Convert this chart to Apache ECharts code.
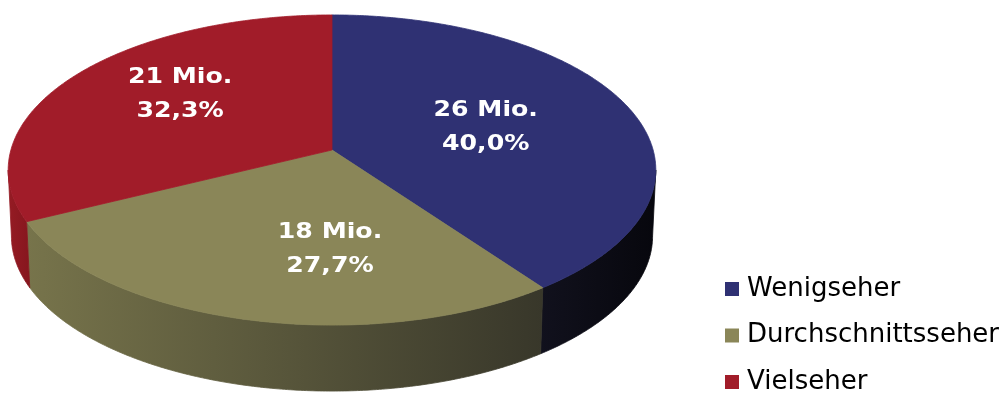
<!DOCTYPE html>
<html>
<head>
<meta charset="utf-8">
<script src="https://cdn.jsdelivr.net/npm/echarts@6/dist/echarts.min.js"></script>
<style>
  html, body { margin: 0; padding: 0; background: #ffffff; }
  #chart { width: 1006px; height: 394px; }
</style>
</head>
<body>
<div id="chart"></div>
<script>
// Zuschauergruppen (Mio.)
const categories = ['Wenigseher', 'Durchschnittsseher', 'Vielseher'];
const viewers = [26, 18, 21];

// colours: top faces, side faces (left -> right gradient)
const topColors = ['#2f3173', '#8a8658', '#a11c29'];
const sideColors = [['#11111d', '#07070d'], ['#77744b', '#38372a'], ['#951b24', '#86161e']];
// small shifts of the value labels away from the slice centre
const labelNudge = [[4, 1], [39, 21], [-20, -17]];

// tilted disc seen in perspective; the wall is the rim pushed down in screen space
const view = { cx: 332, cy: 150, f: 2190, dist: 6.82, tilt: 28.35, wall: 66, shrink: 0.99 };
const sinT = Math.sin(view.tilt * Math.PI / 180);
const cosT = Math.cos(view.tilt * Math.PI / 180);

// angle in degrees clockwise from the back of the disc, r in disc radii
function project(ang, r) {
  const a = ang * Math.PI / 180;
  const u = r * Math.sin(a), v = r * Math.cos(a);
  const zc = view.dist + v * cosT;
  return [view.cx + view.f * u / zc, view.cy - view.f * v * sinT / zc];
}
function projectBottom(ang) {
  const p = project(ang, 1);
  return [view.cx + (p[0] - view.cx) * view.shrink, p[1] + view.wall];
}

// the wall is visible between the rightmost and leftmost rim points
let rimRight = 90, rimLeft = 270;
(function () {
  let maxX = -Infinity, minX = Infinity;
  for (let a = 0; a < 360; a += 0.1) {
    const x = project(a, 1)[0];
    if (x > maxX) { maxX = x; rimRight = a; }
    if (x < minX) { minX = x; rimLeft = a; }
  }
})();

const total = viewers.reduce((a, b) => a + b, 0);

function renderSlice(params, api) {
  const i = params.seriesIndex;
  const value = api.value(0);
  const before = viewers.slice(0, i).reduce((a, b) => a + b, 0);
  const a0 = before / total * 360;
  const a1 = (before + value) / total * 360;
  const children = [];

  // outer wall, only the part facing the viewer
  const s0 = Math.max(a0, rimRight), s1 = Math.min(a1, rimLeft);
  if (s1 > s0) {
    const upper = [], lower = [];
    for (let a = s0; a < s1; a += 0.5) {
      upper.push(project(a, 1));
      lower.push(projectBottom(a));
    }
    upper.push(project(s1, 1));
    lower.push(projectBottom(s1));
    const pts = upper.concat(lower.reverse());
    const xs = pts.map(p => p[0]);
    const grad = new echarts.graphic.LinearGradient(Math.min(...xs), 0, Math.max(...xs), 0, [
      { offset: 0, color: sideColors[i][0] },
      { offset: 1, color: sideColors[i][1] }
    ], true);
    children.push({ type: 'polygon', z2: 1, shape: { points: pts },
      style: { fill: grad, stroke: grad, lineWidth: 0.8 } });
  }

  // top face
  const topPts = [project(0, 0)];
  for (let a = a0; a < a1; a += 0.5) topPts.push(project(a, 1));
  topPts.push(project(a1, 1));
  children.push({ type: 'polygon', z2: 10, shape: { points: topPts },
    style: { fill: topColors[i], stroke: topColors[i], lineWidth: 0.8 } });

  // value label
  const lp = project((a0 + a1) / 2, 0.5);
  const pct = (value / total * 100).toFixed(1).replace('.', ',');
  children.push({ type: 'text', z2: 20,
    x: lp[0] + labelNudge[i][0], y: lp[1] + labelNudge[i][1], scaleX: 1.2,
    style: { text: value + ' Mio.\n' + pct + '%', fill: '#ffffff',
      font: 'bold 21px "DejaVu Sans"', align: 'center', verticalAlign: 'middle', lineHeight: 34 } });

  return { type: 'group', children };
}

const chart = echarts.init(document.getElementById('chart'), null, { renderer: 'canvas' });
chart.setOption({
  backgroundColor: '#ffffff',
  animation: false,
  legend: {
    data: categories,
    orient: 'vertical',
    left: 725,
    top: 276,
    height: 130,
    padding: 0,
    icon: 'rect',
    itemWidth: 14,
    itemHeight: 14,
    itemGap: 20.5,
    selectedMode: false,
    textStyle: { fontFamily: 'DejaVu Sans', fontSize: 26, lineHeight: 26, color: '#000000', padding: [0, 0, 0, 3] }
  },
  series: categories.map((name, i) => ({
    type: 'custom',
    name: name,
    coordinateSystem: 'none',
    itemStyle: { color: topColors[i] },
    data: [[viewers[i]]],
    renderItem: renderSlice
  }))
});
</script>
</body>
</html>
